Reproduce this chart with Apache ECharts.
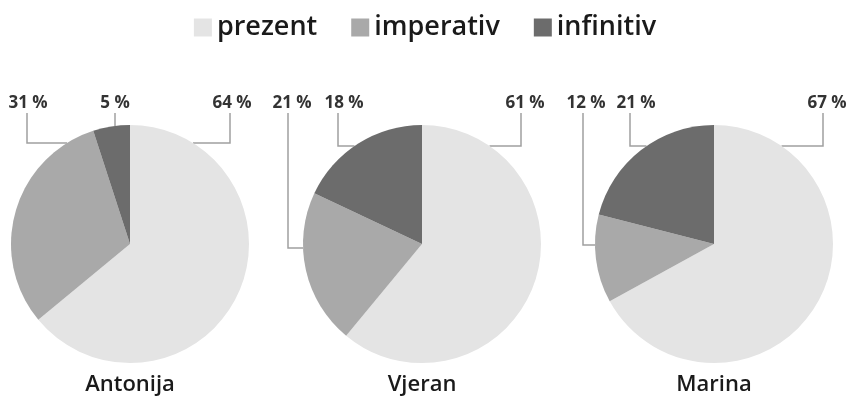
<!DOCTYPE html>
<html>
<head>
<meta charset="utf-8">
<script src="https://cdn.jsdelivr.net/npm/echarts@6/dist/echarts.min.js"></script>
<style>
  html, body { margin: 0; padding: 0; background: #fff; }
  #chart { width: 850px; height: 402px; }
</style>
</head>
<body>
<div id="chart"></div>
<script>
var categories = ['prezent', 'imperativ', 'infinitiv'];
var speakers = ['Antonija', 'Vjeran', 'Marina'];
var antonija = [64, 31, 5];
var vjeran = [61, 21, 18];
var marina = [67, 12, 21];
var values = [antonija, vjeran, marina];

var colors = ['#e4e4e4', '#a9a9a9', '#6c6c6c'];
var centersX = [130, 422, 714];
var centerY = 244;
var R = 119;
var labelY = 112;

// label placement per pie: [text x offset, line x offset, elbow y offset or null]
var labelSpots = [
    [[102, 100, -101], [-102, -103, -101], [-15, -15, null]],
    [[103, 99, -98], [-130, -134, 4], [-78, -84, -98]],
    [[113, 109, -98], [-128, -131, 1], [-78, -84, -98]]
];

var chart = echarts.init(document.getElementById('chart'));

var series = speakers.map(function (name, s) {
    return {
        name: name,
        type: 'pie',
        center: [centersX[s], centerY],
        radius: R,
        startAngle: 90,
        clockwise: true,
        avoidLabelOverlap: false,
        silent: true,
        data: categories.map(function (c, i) {
            return {name: c, value: values[s][i]};
        }),
        label: {
            show: true,
            position: 'outside',
            formatter: '{c} %',
            fontFamily: 'Open Sans',
            fontWeight: 'bold',
            fontSize: 17,
            color: '#333'
        },
        labelLine: {
            show: true,
            lineStyle: {color: '#a0a0a0', width: 1.5}
        },
        labelLayout: function (p) {
            var spot = labelSpots[s][p.dataIndex];
            var cx = centersX[s];
            var lx = cx + spot[1];
            var pts;
            if (spot[2] === null) {
                var ty = centerY - Math.sqrt(R * R - spot[1] * spot[1]);
                pts = [[lx, ty], [lx, ty], [lx, labelY + 1]];
            } else {
                var ey = centerY + spot[2];
                var side = spot[1] < 0 ? -1 : 1;
                var ex = cx + side * Math.sqrt(Math.max(0, R * R - spot[2] * spot[2]));
                pts = [[ex, ey], [lx, ey], [lx, labelY + 1]];
            }
            return {
                x: cx + spot[0],
                y: labelY,
                align: 'center',
                verticalAlign: 'bottom',
                labelLinePoints: pts
            };
        }
    };
});

var option = {
    color: colors,
    animation: false,
    legend: {
        data: categories,
        top: 9,
        left: 'center',
        icon: 'rect',
        itemWidth: 18,
        itemHeight: 18,
        itemGap: 34,
        textStyle: {fontFamily: 'Open Sans', fontWeight: 600, fontSize: 27, color: '#1a1a1a'}
    },
    graphic: speakers.map(function (name, s) {
        return {
            type: 'text',
            x: centersX[s],
            y: 385,
            style: {
                text: name,
                fontFamily: 'Open Sans',
                fontWeight: 600,
                fontSize: 22,
                fill: '#1a1a1a',
                textAlign: 'center',
                textVerticalAlign: 'middle'
            }
        };
    }),
    series: series
};
chart.setOption(option);
</script>
</body>
</html>
